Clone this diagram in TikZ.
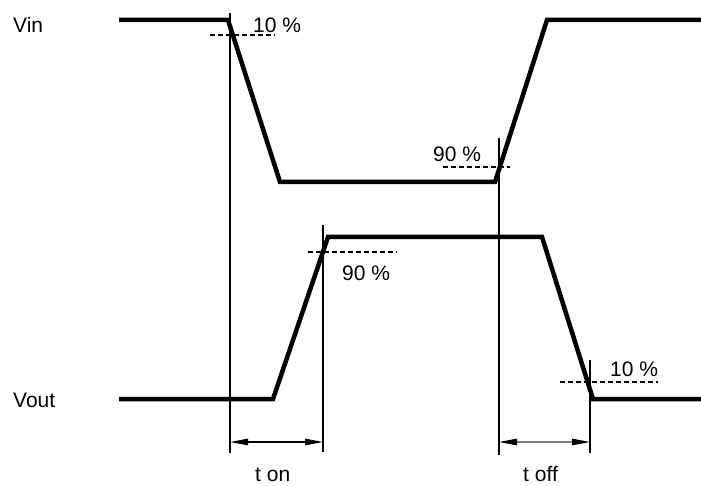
\documentclass[tikz,border=0pt]{standalone}
\usepackage{fontspec}
\setmainfont{Liberation Sans}
\usetikzlibrary{arrows.meta}

\begin{document}
\begin{tikzpicture}[x=1pt, y=-1pt,
    wave/.style={line width=4.5pt, line join=miter},
    guide/.style={line width=1.1pt},
    thresh/.style={line width=1.1pt, dash pattern=on 5pt off 3pt},
    timespan/.style={line width=1.2pt,
        {Triangle[length=18pt,width=6.5pt,color=black]}-{Triangle[length=18pt,width=6.5pt,color=black]}},
    annot/.style={anchor=base west, inner sep=0pt, font=\fontsize{21}{25}\selectfont}
]
    \useasboundingbox (0,0) rectangle (701,486);

    % input waveform
    \coordinate (in0) at (119,20);
    \coordinate (in1) at (228,20);
    \coordinate (in2) at (280,182);
    \coordinate (in3) at (495,182);
    \coordinate (in4) at (547,20);
    \coordinate (in5) at (701,20);
    \draw[wave] (in0) -- (in1) -- (in2) -- (in3) -- (in4) -- (in5);

    % output waveform
    \coordinate (out0) at (119,399);
    \coordinate (out1) at (273,399);
    \coordinate (out2) at (328,237);
    \coordinate (out3) at (542,237);
    \coordinate (out4) at (593,399);
    \coordinate (out5) at (701,399);
    \draw[wave] (out0) -- (out1) -- (out2) -- (out3) -- (out4) -- (out5);

    % vertical guides
    \coordinate (ga) at (230,13);   \coordinate (ga') at (230,453);
    \coordinate (gb) at (323,225);  \coordinate (gb') at (323,452);
    \coordinate (gc) at (499,138);  \coordinate (gc') at (499,455);
    \coordinate (gd) at (590,360);  \coordinate (gd') at (590,453);
    \draw[guide] (ga) -- (ga');
    \draw[guide] (gb) -- (gb');
    \draw[guide] (gc) -- (gc');
    \draw[guide] (gd) -- (gd');

    % threshold levels
    \coordinate (ta) at (210,35);   \coordinate (ta') at (275,35);
    \coordinate (tb) at (443,167);  \coordinate (tb') at (510,167);
    \coordinate (tc) at (308,252);  \coordinate (tc') at (397,252);
    \coordinate (td) at (560,382);  \coordinate (td') at (658,382);
    \draw[thresh] (ta) -- (ta');
    \draw[thresh] (tb) -- (tb');
    \draw[thresh] (tc) -- (tc');
    \draw[thresh] (td) -- (td');

    % switching times
    \coordinate (on0) at (230,442);  \coordinate (on1) at (323,442);
    \coordinate (off0) at (499,442); \coordinate (off1) at (590,442);
    \draw[timespan] (on0) -- (on1);
    \draw[timespan, draw=gray] (off0) -- (off1);

    % labels
    \node[annot] (vin) at (13,33) {Vin};
    \node[annot] (vout) at (13,407) {Vout};
    \node[annot] (pa) at (253,33) {10 \%};
    \node[annot] (pb) at (433,162) {90 \%};
    \node[annot] (pc) at (342,280) {90 \%};
    \node[annot] (pd) at (610,376) {10 \%};
    \node[annot] (ton) at (255,481) {t on};
    \node[annot] (toff) at (523,481) {t off};
\end{tikzpicture}
\end{document}
